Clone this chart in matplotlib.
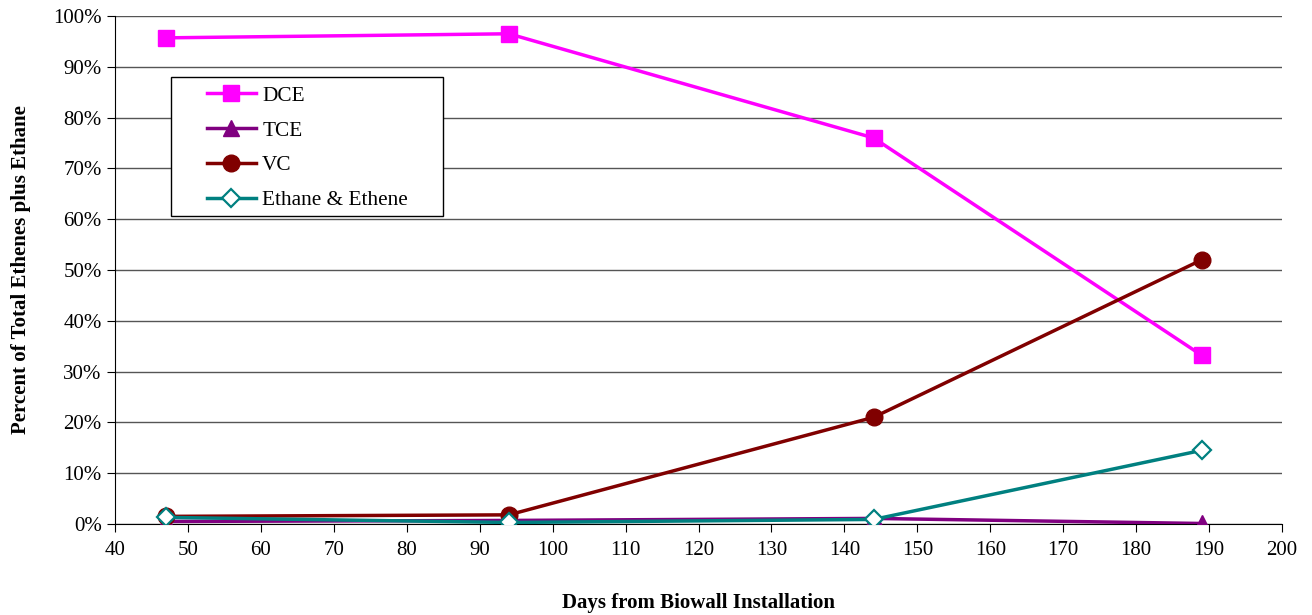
import matplotlib
matplotlib.use("Agg")
import matplotlib.pyplot as plt
from matplotlib.patches import Rectangle
from matplotlib.ticker import FuncFormatter, MultipleLocator

days = [47, 94, 144, 189]
dce = [95.7, 96.5, 76.0, 33.2]
tce = [0.5, 0.7, 1.1, 0.1]
vc = [1.5, 1.8, 21.0, 52.0]
ethane = [1.3, 0.3, 0.9, 14.5]

plt.rcParams['font.family'] = ['Liberation Serif', 'DejaVu Serif']

W, H = 1312, 615
fig = plt.figure(figsize=(W / 100, H / 100), dpi=100)
ax = fig.add_axes([115 / W, 1 - 524 / H, 1167 / W, 508 / H])

ax.plot(days, dce, color='#FF00FF', lw=2.5, marker='s', ms=11.5, label='DCE', zorder=3)
ax.plot(days, tce, color='#800080', lw=2.5, marker='^', ms=11.5, label='TCE', zorder=3)
ax.plot(days, vc, color='#800000', lw=2.5, marker='o', ms=12, label='VC', zorder=3)
ax.plot(days, ethane, color='#008080', lw=2.5, marker='D', ms=9.5, mfc='white', mew=1.6,
        label='Ethane & Ethene', zorder=4)

ax.set_xlim(40, 200)
ax.set_ylim(0, 100)
ax.xaxis.set_major_locator(MultipleLocator(10))
ax.yaxis.set_major_locator(MultipleLocator(10))
ax.yaxis.set_major_formatter(FuncFormatter(lambda v, p: f"{v:.0f}%"))
ax.grid(axis='y', color='#555555', lw=1)
ax.set_axisbelow(True)
for s in ['top', 'right']:
    ax.spines[s].set_visible(False)
ax.tick_params(axis='both', direction='out', length=6, labelsize=15, colors='black')
ax.tick_params(axis='x', pad=6)

ax.set_xlabel('Days from Biowall Installation', fontsize=15, fontweight='bold', labelpad=24)
ax.set_ylabel('Percent of Total Ethenes plus Ethane', fontsize=15, fontweight='bold', labelpad=16)

# legend box
box = Rectangle((171 / W, 1 - 216 / H), 272 / W, 139 / H, transform=fig.transFigure,
                facecolor='white', edgecolor='black', lw=1, zorder=5)
ax.add_patch(box)
box.set_clip_on(False)

leg = ax.legend(loc='upper left', bbox_to_anchor=(207 / W, 1 - 86 / H),
                bbox_transform=fig.transFigure, fontsize=15.3,
                frameon=False, handlelength=2.3, borderpad=0, labelspacing=0.7,
                borderaxespad=0, handletextpad=0.3)
leg.set_zorder(6)

fig.savefig('out.png', dpi=100, facecolor='white')
